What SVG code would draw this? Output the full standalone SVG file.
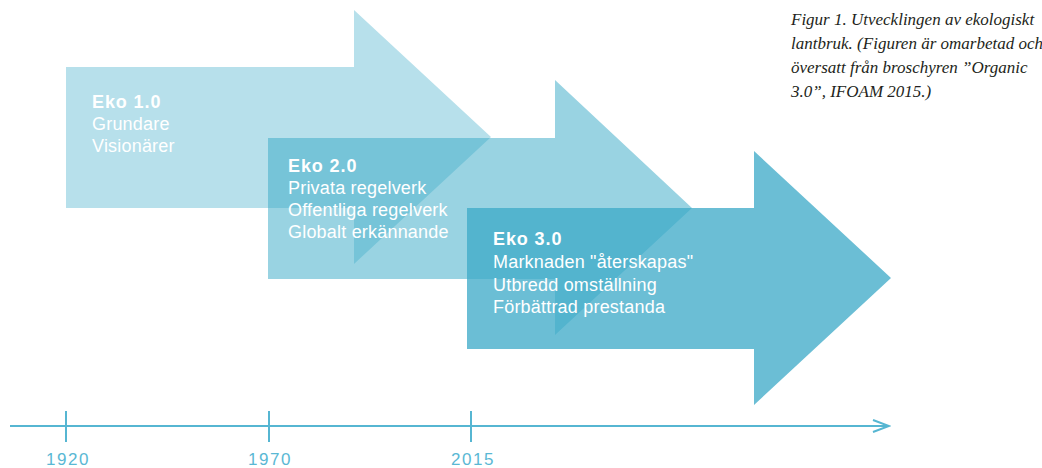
<svg xmlns="http://www.w3.org/2000/svg" width="1042" height="468" viewBox="0 0 1042 468">
<defs>
<style>
.arrow{fill:rgb(60,170,200)}
.t{font-family:"Liberation Sans",Arial,sans-serif;font-size:18px;letter-spacing:0.2px;fill:#ffffff}
.b{font-weight:bold;letter-spacing:0.9px}
.cap{font-family:"Liberation Serif","Times New Roman",serif;font-style:italic;font-size:17px;fill:#231f20}
.yr{font-family:"Liberation Sans",Arial,sans-serif;font-size:17px;letter-spacing:1.5px;fill:#5ab8d4;text-anchor:middle}
.axis{stroke:#56b6d2;stroke-width:2;fill:none}
</style>
<marker id="chev" viewBox="0 0 20 14" refX="18" refY="7" markerWidth="20" markerHeight="14" markerUnits="userSpaceOnUse" orient="auto">
<path d="M2,1 L18,7 L2,13" fill="none" stroke="#56b6d2" stroke-width="2"/>
</marker>
</defs>
<rect width="1042" height="468" fill="#ffffff"/>
<g id="eko1">
<polygon class="arrow" fill-opacity="0.37" points="66,67 354,67 354,10 491,137 354,264 354,208 66,208"/>
<text class="t b" x="92" y="108">Eko 1.0</text>
<text class="t" x="92" y="130">Grundare</text>
<text class="t" x="92" y="152">Visionärer</text>
</g>
<g id="eko2">
<polygon class="arrow" fill-opacity="0.52" points="268,138 555,138 555,80 692,208 555,335 555,279 268,279"/>
<text class="t b" x="288" y="172">Eko 2.0</text>
<text class="t" x="288" y="194">Privata regelverk</text>
<text class="t" x="288" y="216">Offentliga regelverk</text>
<text class="t" x="288" y="238">Globalt erkännande</text>
</g>
<g id="eko3">
<polygon class="arrow" fill-opacity="0.76" points="467,208 754,208 754,151 891,278 754,405 754,349 467,349"/>
<text class="t b" x="493" y="245">Eko 3.0</text>
<text class="t" x="493" y="268">Marknaden "återskapas"</text>
<text class="t" x="493" y="291">Utbredd omställning</text>
<text class="t" x="493" y="313">Förbättrad prestanda</text>
</g>
<g id="caption">
<text class="cap" x="791" y="25">Figur 1. Utvecklingen av ekologiskt</text>
<text class="cap" x="791" y="49">lantbruk. (Figuren är omarbetad och</text>
<text class="cap" x="791" y="73">översatt från broschyren ”Organic</text>
<text class="cap" x="791" y="97">3.0”, IFOAM 2015.)</text>
</g>
<g id="connectors">
<line class="axis" x1="10" y1="426" x2="889" y2="426" marker-end="url(#chev)"/>
<line class="axis" x1="66" y1="411" x2="66" y2="442"/>
<line class="axis" x1="269" y1="411" x2="269" y2="442"/>
<line class="axis" x1="471" y1="411" x2="471" y2="442"/>
</g>
<g id="years">
<text class="yr" x="68" y="465">1920</text>
<text class="yr" x="270" y="465">1970</text>
<text class="yr" x="473" y="465">2015</text>
</g>
</svg>
